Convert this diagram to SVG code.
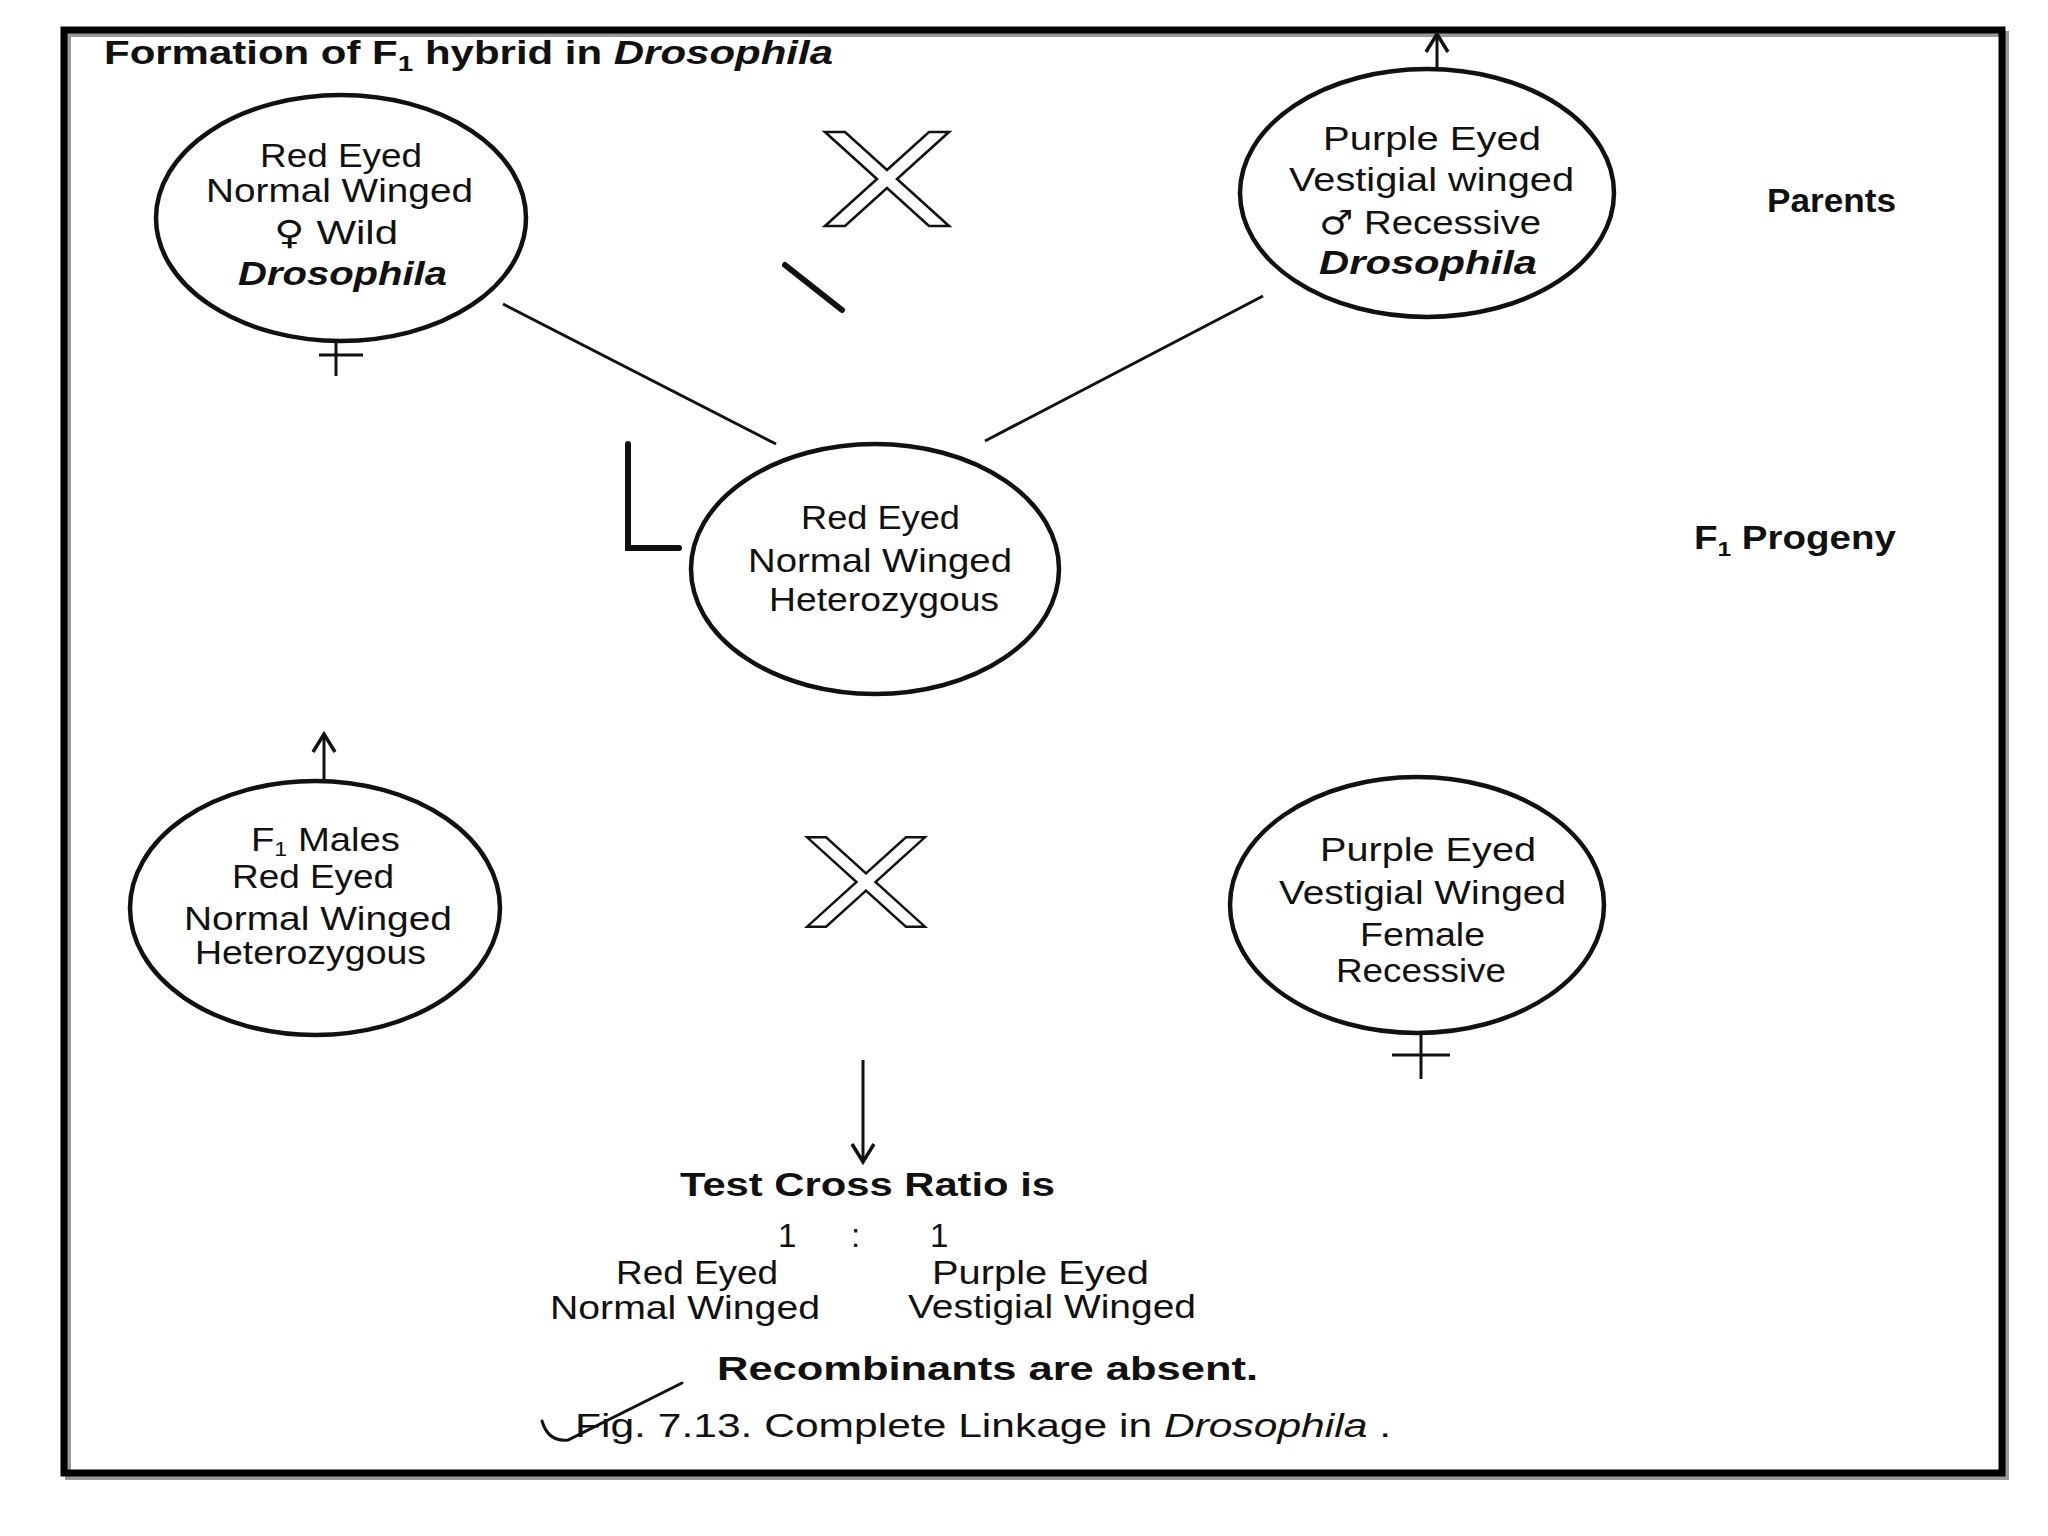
<svg xmlns="http://www.w3.org/2000/svg" width="2048" height="1536" viewBox="0 0 2048 1536">
<defs>
<style>
.t{font-family:"Liberation Sans",Arial,sans-serif;font-size:33px;fill:#111}
.b{font-family:"Liberation Sans",Arial,sans-serif;font-size:33px;font-weight:bold;fill:#111}
.i{font-style:italic}
.sym{font-family:"DejaVu Sans",sans-serif}
.node{fill:none;stroke:#111;stroke-width:4.5}
.conn{fill:none;stroke:#111;stroke-width:3}
.mark{fill:none;stroke:#111;stroke-linecap:round}
.cross{fill:#fff;stroke:#111;stroke-width:2.6;stroke-linejoin:miter}
</style>
<marker id="ah" viewBox="0 0 30 30" refX="22" refY="15" markerWidth="30" markerHeight="30" markerUnits="userSpaceOnUse" orient="auto">
<path d="M4,4 L22,15 L4,26" fill="none" stroke="#111" stroke-width="3.5"/>
</marker>
<polygon id="xs" points="-62,-47 -42,-47 0,-9 42,-47 62,-47 10,0 62,47 42,47 0,9 -42,47 -62,47 -10,0"/>
</defs>
<rect x="0" y="0" width="2048" height="1536" fill="#fff"/>
<rect x="68" y="34" width="1938" height="1443" fill="none" stroke="#999" stroke-width="6"/>
<rect x="64" y="30" width="1938" height="1443" fill="none" stroke="#000" stroke-width="7"/>

<text class="b" x="104" y="64" font-size="34" textLength="729" lengthAdjust="spacingAndGlyphs">Formation of F<tspan font-size="22" dy="7">1</tspan><tspan dy="-7"> hybrid in </tspan><tspan class="i">Drosophila</tspan></text>

<g id="connectors">
<line class="conn" x1="503" y1="304" x2="776" y2="444"/>
<line class="conn" x1="1263" y1="296" x2="985" y2="441"/>
<line class="conn" x1="1437" y1="69" x2="1437" y2="34" marker-end="url(#ah)"/>
<line class="conn" x1="324" y1="781" x2="324" y2="734" marker-end="url(#ah)"/>
<line class="conn" x1="863" y1="1060" x2="863" y2="1162" marker-end="url(#ah)"/>
</g>

<g id="cross-top"><use href="#xs" class="cross" transform="translate(887,179)"/></g>
<g id="cross-bottom"><use href="#xs" class="cross" transform="translate(866,882) scale(0.95)"/></g>

<g id="marks">
<line class="mark" x1="785" y1="265" x2="842" y2="310" stroke-width="6"/>
<polyline class="mark" points="628,444 628,548 679,548" stroke-width="6"/>
<path class="mark" d="M542,1421 Q548,1442 568,1440 L682,1383" stroke-width="3"/>
</g>

<g id="parent-female">
<ellipse class="node" cx="341" cy="218" rx="185" ry="123"/>
<line class="conn" x1="336" y1="341" x2="336" y2="376"/>
<line class="conn" x1="319" y1="355" x2="363" y2="355"/>
<text class="t" x="260" y="167" textLength="162" lengthAdjust="spacingAndGlyphs">Red Eyed</text>
<text class="t" x="206" y="202" textLength="267" lengthAdjust="spacingAndGlyphs">Normal Winged</text>
<text class="t" x="274" y="244" textLength="124" lengthAdjust="spacingAndGlyphs"><tspan class="sym">♀</tspan> Wild</text>
<text class="t" x="238" y="285" textLength="209" lengthAdjust="spacingAndGlyphs" font-weight="bold" font-style="italic">Drosophila</text>
</g>

<g id="parent-male">
<ellipse class="node" cx="1427" cy="193" rx="187" ry="124"/>
<text class="t" x="1323" y="150" textLength="218" lengthAdjust="spacingAndGlyphs">Purple  Eyed</text>
<text class="t" x="1289" y="191" textLength="285" lengthAdjust="spacingAndGlyphs">Vestigial  winged</text>
<text class="t" x="1319" y="234" textLength="222" lengthAdjust="spacingAndGlyphs"><tspan class="sym" font-weight="bold">♂</tspan> Recessive</text>
<text class="t" x="1319" y="274" textLength="218" lengthAdjust="spacingAndGlyphs" font-weight="bold" font-style="italic">Drosophila</text>
</g>

<g id="label-parents"><text class="b" x="1767" y="212" font-size="31" textLength="129" lengthAdjust="spacingAndGlyphs">Parents</text></g>

<g id="f1-hybrid">
<ellipse class="node" cx="875" cy="569" rx="184" ry="125"/>
<text class="t" x="801" y="529" textLength="159" lengthAdjust="spacingAndGlyphs">Red Eyed</text>
<text class="t" x="748" y="572" textLength="264" lengthAdjust="spacingAndGlyphs">Normal  Winged</text>
<text class="t" x="769" y="611" textLength="230" lengthAdjust="spacingAndGlyphs">Heterozygous</text>
</g>

<g id="label-f1"><text class="b" x="1694" y="549" font-size="31" textLength="202" lengthAdjust="spacingAndGlyphs">F<tspan font-size="21" dy="7">1</tspan><tspan dy="-7"> Progeny</tspan></text></g>

<g id="f1-male">
<ellipse class="node" cx="315" cy="908" rx="185" ry="127"/>
<text class="t" x="251" y="851" textLength="149" lengthAdjust="spacingAndGlyphs">F<tspan font-size="20" dy="5">1</tspan><tspan dy="-5"> Males</tspan></text>
<text class="t" x="232" y="888" textLength="162" lengthAdjust="spacingAndGlyphs">Red Eyed</text>
<text class="t" x="184" y="930" textLength="268" lengthAdjust="spacingAndGlyphs">Normal Winged</text>
<text class="t" x="195" y="964" textLength="231" lengthAdjust="spacingAndGlyphs">Heterozygous</text>
</g>

<g id="recessive-female">
<ellipse class="node" cx="1417" cy="905" rx="187" ry="128"/>
<line class="conn" x1="1421" y1="1033" x2="1421" y2="1079"/>
<line class="conn" x1="1392" y1="1055" x2="1450" y2="1055"/>
<text class="t" x="1320" y="861" textLength="216" lengthAdjust="spacingAndGlyphs">Purple  Eyed</text>
<text class="t" x="1279" y="904" textLength="287" lengthAdjust="spacingAndGlyphs">Vestigial  Winged</text>
<text class="t" x="1360" y="946" textLength="125" lengthAdjust="spacingAndGlyphs">Female</text>
<text class="t" x="1336" y="982" textLength="170" lengthAdjust="spacingAndGlyphs">Recessive</text>
</g>

<g id="result">
<text class="b" x="680" y="1196" textLength="375" lengthAdjust="spacingAndGlyphs">Test Cross Ratio is</text>
<text class="t" y="1247" font-size="36"><tspan x="778">1</tspan><tspan x="851">:</tspan><tspan x="930">1</tspan></text>
<text class="t" x="616" y="1284" textLength="162" lengthAdjust="spacingAndGlyphs">Red Eyed</text>
<text class="t" x="550" y="1319" textLength="270" lengthAdjust="spacingAndGlyphs">Normal  Winged</text>
<text class="t" x="932" y="1284" textLength="217" lengthAdjust="spacingAndGlyphs">Purple  Eyed</text>
<text class="t" x="908" y="1318" textLength="288" lengthAdjust="spacingAndGlyphs">Vestigial  Winged</text>
<text class="b" x="717" y="1380" textLength="541" lengthAdjust="spacingAndGlyphs">Recombinants are absent.</text>
<text class="t" x="575" y="1437" textLength="816" lengthAdjust="spacingAndGlyphs">Fig. 7.13. Complete Linkage in <tspan class="i">Drosophila</tspan> .</text>
</g>
</svg>
